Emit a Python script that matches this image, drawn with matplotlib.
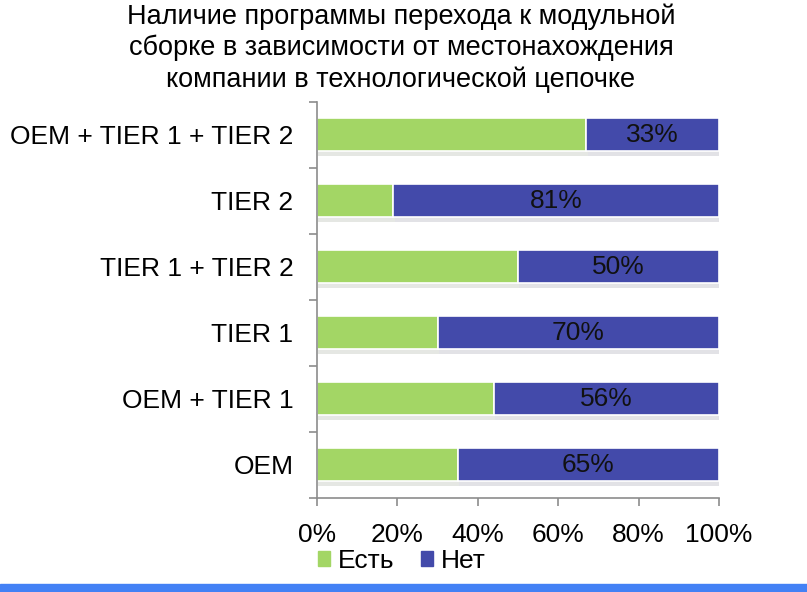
import matplotlib.pyplot as plt
import matplotlib.patheffects as pe
import numpy as np

# --- data ---
categories = ["OEM", "OEM + TIER 1", "TIER 1", "TIER 1 + TIER 2", "TIER 2", "OEM + TIER 1 + TIER 2"]
est = [35, 44, 30, 50, 19, 67]      # "Есть" share, %
net = [65, 56, 70, 50, 81, 33]      # "Нет" share, %
xticks = [0, 20, 40, 60, 80, 100]

GREEN = "#A3D665"
BLUE = "#434AAA"
GREY = "#8C8C8C"
FS = 19

plt.rcParams["font.family"] = ["Liberation Sans", "DejaVu Sans"]

fig = plt.figure(figsize=(8.07, 5.92), dpi=100)
ax = fig.add_axes([0.3928, 0.1588, 0.4982, 0.669])

y = np.arange(len(categories))
shadow = [pe.SimplePatchShadow(offset=(1, -3), alpha=0.12), pe.Normal()]
ax.barh(y, est, height=0.5, color=GREEN, edgecolor="white", linewidth=1.2,
        path_effects=shadow)
ax.barh(y, net, left=est, height=0.5, color=BLUE, edgecolor="white", linewidth=1.2,
        path_effects=shadow)

for yi, e, n in zip(y, est, net):
    ax.text(e + n / 2, yi, f"{n}%", ha="center", va="center", fontsize=FS, color="#111111")

ax.set_xlim(0, 100)
ax.set_ylim(-0.5, len(categories) - 0.5)
ax.set_xticks(xticks)
ax.set_xticklabels([f"{t}%" for t in xticks], fontsize=FS)
ax.set_yticks(y)
ax.set_yticklabels(categories, fontsize=FS)
ax.set_yticks(np.arange(-0.5, len(categories)), minor=True)

ax.tick_params(axis="y", which="major", length=0, pad=17)
ax.tick_params(axis="y", which="minor", length=6, color=GREY, width=1.2)
ax.tick_params(axis="x", length=6, color=GREY, width=1.2, pad=12)

for side in ["top", "right"]:
    ax.spines[side].set_visible(False)
for side in ["left", "bottom"]:
    ax.spines[side].set_color(GREY)
    ax.spines[side].set_linewidth(1.2)

fig.text(401 / 807, 1 - 3 / 592,
         "Наличие программы перехода к модульной\nсборке в зависимости от местонахождения\nкомпании в технологической цепочке",
         ha="center", va="top", fontsize=19.5, linespacing=1.25)

h_e = plt.Rectangle((0, 0), 1, 1, color=GREEN)
h_n = plt.Rectangle((0, 0), 1, 1, color=BLUE)
ax.legend([h_e, h_n], ["Есть", "Нет"], loc="upper left", bbox_to_anchor=(-0.03, -0.095),
          ncol=2, frameon=False, fontsize=FS, handlelength=0.45, handleheight=0.45,
          handletextpad=0.3, columnspacing=1.0, borderpad=0)

# bottom accent band
fig.patches.append(plt.Rectangle((0, 0), 1, 8 / 592, transform=fig.transFigure,
                                 color="#4381F5", zorder=0))

fig.savefig("out.png", dpi=100)
